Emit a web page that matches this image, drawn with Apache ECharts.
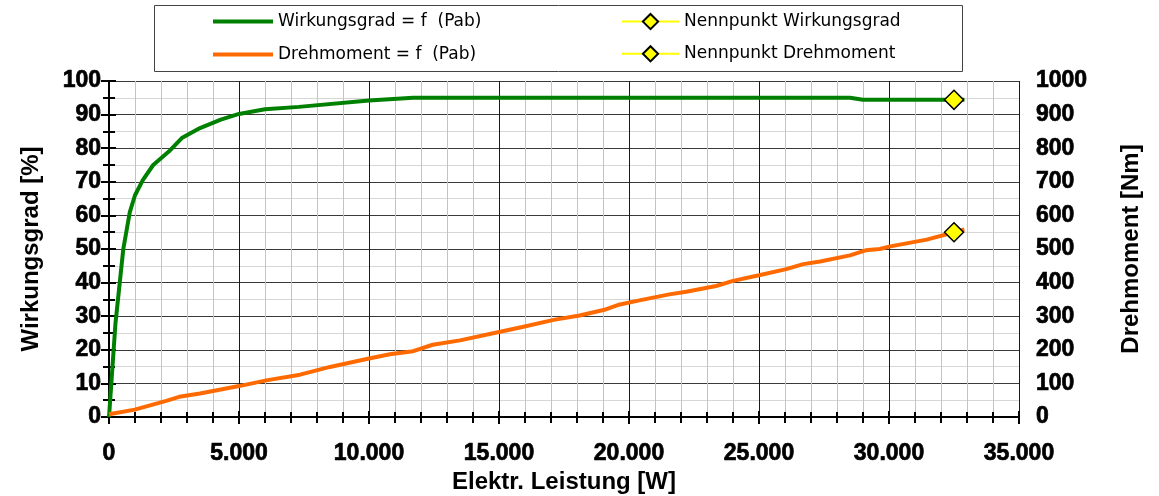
<!DOCTYPE html>
<html>
<head>
<meta charset="utf-8">
<script src="https://cdn.jsdelivr.net/npm/echarts@6/dist/echarts.min.js"></script>
<style>
html,body{margin:0;padding:0;background:#fff;}
#chart{width:1159px;height:496px;}
</style>
</head>
<body>
<div id="chart"></div>
<script>
// Wirkungsgrad = f (Pab): electrical power [W] and efficiency [%]
const effPower = [0, 250, 550, 800, 1000, 1300, 1700, 2300, 2800, 3500, 4300, 5000, 6000, 7300, 10000, 11700, 12580, 15810, 18730, 20460, 22850, 27200, 28500, 29000, 32900];
const effValues = [0, 28, 50, 61, 66, 70.5, 75, 79, 83, 86, 88.5, 90.2, 91.6, 92.3, 94.2, 95, 95, 95, 95, 95, 95, 95, 95, 94.4, 94.4];

// Drehmoment = f (Pab): electrical power [W] and torque [Nm]
const torquePower = [0, 990, 2200, 2700, 3500, 5000, 6050, 7350, 8500, 10000, 10800, 11700, 12450, 13500, 15000, 15900, 17100, 18100, 19100, 19650, 20400, 21550, 22200, 23350, 24000, 25000, 26050, 26700, 27350, 28500, 29100, 29650, 30000, 31450, 32900];
const torqueValues = [8, 22, 48, 60, 70, 92, 109, 126, 149, 174, 187, 196, 215, 228, 253, 268, 289, 302, 320, 335, 347, 365, 373, 390, 405, 422, 440, 455, 463, 481, 496, 500, 507, 528, 558];

// Nennpunkte (rated points)
const ratedPower = [32500];
const ratedEfficiency = [94.4];
const ratedTorque = [550];

// Series names / axis titles
const seriesNames = ['Wirkungsgrad = f  (Pab)', 'Drehmoment = f  (Pab)', 'Nennpunkt Wirkungsgrad', 'Nennpunkt Drehmoment'];
const xTitle = 'Elektr. Leistung [W]';
const yLeftTitle = 'Wirkungsgrad [%]';
const yRightTitle = 'Drehmoment [Nm]';

const zip = (xs, ys) => xs.map((x, i) => [x, ys[i]]);
const fmtThousands = v => String(v).replace(/\B(?=(\d{3})+(?!\d))/g, '.');
const fmtPlain = v => String(v);

const labelFont = {
  fontFamily: 'Liberation Sans, Arial, sans-serif',
  fontWeight: 'bold',
  fontSize: 23,
  color: '#000',
  textBorderColor: '#000',
  textBorderWidth: 0.7
};
const nameFont = {
  fontFamily: 'Liberation Sans, Arial, sans-serif',
  fontWeight: 'bold',
  fontSize: 24,
  color: '#000'
};

const chart = echarts.init(document.getElementById('chart'), null, {renderer: 'canvas'});

const yellowMarker = {
  color: '#ffff00',
  borderColor: '#000',
  borderWidth: 1.5
};
const legendText = {fontFamily: 'DejaVu Sans, sans-serif', fontSize: 17, color: '#000'};

const option = {
  animation: false,
  backgroundColor: '#fff',
  grid: {left: 109, right: 140, top: 81, bottom: 79, containLabel: false, outerBoundsMode: 'none'},
  graphic: [{
    type: 'rect',
    shape: {x: 154.5, y: 5.5, width: 808, height: 66},
    style: {fill: '#fff', stroke: '#444', lineWidth: 1},
    z: -1
  }],
  legend: [{
    data: [
      {name: seriesNames[0], icon: 'rect'},
      {name: seriesNames[1], icon: 'rect'}
    ],
    orient: 'vertical',
    left: 213,
    top: 13,
    padding: 0,
    itemWidth: 60,
    itemHeight: 4,
    itemGap: 16,
    textStyle: legendText
  }, {
    data: [seriesNames[2], seriesNames[3]],
    orient: 'vertical',
    left: 621,
    top: 13,
    padding: 0,
    itemWidth: 57,
    itemHeight: 19,
    itemGap: 15,
    textStyle: legendText
  }],
  xAxis: [{
    type: 'value',
    position: 'bottom',
    min: 0, max: 35000, interval: 5000,
    name: xTitle,
    nameLocation: 'middle',
    nameGap: 51,
    nameTextStyle: nameFont,
    axisLine: {show: true, lineStyle: {color: '#000', width: 2}},
    axisTick: {show: true, inside: false, length: 7, lineStyle: {color: '#000', width: 2}},
    minorTick: {show: true, splitNumber: 5, length: 6, lineStyle: {color: '#000', width: 2}},
    axisLabel: Object.assign({margin: 25, formatter: fmtThousands}, labelFont),
    splitLine: {show: true, lineStyle: {color: '#1a1a1a', width: 1}},
    minorSplitLine: {show: true, lineStyle: {color: '#c4c4c4', width: 1}}
  }, {
    type: 'value',
    position: 'bottom',
    min: 0, max: 35000, interval: 5000,
    axisLine: {show: false},
    axisTick: {show: true, inside: true, length: 6, lineStyle: {color: '#000', width: 2}},
    minorTick: {show: true, splitNumber: 5, length: 5, lineStyle: {color: '#000', width: 2}},
    axisLabel: {show: false},
    splitLine: {show: false}
  }],
  yAxis: [{
    type: 'value',
    position: 'left',
    min: 0, max: 100, interval: 10,
    name: yLeftTitle,
    nameLocation: 'middle',
    nameGap: 66,
    nameRotate: 90,
    nameTextStyle: nameFont,
    axisLine: {show: true, lineStyle: {color: '#000', width: 2}},
    axisTick: {show: true, inside: false, length: 8, lineStyle: {color: '#000', width: 2}},
    minorTick: {show: true, splitNumber: 2, length: 6, lineStyle: {color: '#000', width: 2}},
    axisLabel: Object.assign({margin: 8, padding: [0, 0, 8, 0], formatter: fmtPlain}, labelFont),
    splitLine: {show: true, lineStyle: {color: '#3a3a3a', width: 1}},
    minorSplitLine: {show: true, lineStyle: {color: '#d6d6d6', width: 1}}
  }, {
    type: 'value',
    position: 'right',
    min: 0, max: 1000, interval: 100,
    name: yRightTitle,
    nameLocation: 'middle',
    nameGap: 100,
    nameRotate: 90,
    nameTextStyle: nameFont,
    axisLine: {show: true, lineStyle: {color: '#000', width: 2}},
    axisTick: {show: true, inside: true, length: 6, lineStyle: {color: '#000', width: 2}},
    axisLabel: Object.assign({margin: 17, padding: [0, 0, 8, 0], formatter: fmtPlain}, labelFont),
    splitLine: {show: false}
  }, {
    type: 'value',
    position: 'left',
    min: 0, max: 100, interval: 10,
    axisLine: {show: false},
    axisTick: {show: true, inside: true, length: 7, lineStyle: {color: '#000', width: 2}},
    minorTick: {show: true, splitNumber: 2, length: 6, lineStyle: {color: '#000', width: 2}},
    axisLabel: {show: false},
    splitLine: {show: false}
  }],
  series: [{
    name: seriesNames[0],
    type: 'line',
    xAxisIndex: 0, yAxisIndex: 0,
    data: zip(effPower, effValues),
    showSymbol: false,
    symbol: 'none',
    lineStyle: {color: '#008000', width: 4},
    itemStyle: {color: '#008000'},
    z: 3
  }, {
    name: seriesNames[1],
    type: 'line',
    xAxisIndex: 0, yAxisIndex: 1,
    data: zip(torquePower, torqueValues),
    showSymbol: false,
    symbol: 'none',
    lineStyle: {color: '#ff6a00', width: 4},
    itemStyle: {color: '#ff6a00'},
    z: 3
  }, {
    name: seriesNames[2],
    type: 'line',
    xAxisIndex: 0, yAxisIndex: 0,
    data: zip(ratedPower, ratedEfficiency),
    symbol: 'diamond',
    symbolSize: 19,
    showSymbol: true,
    lineStyle: {color: '#ffff00', width: 2},
    itemStyle: yellowMarker,
    z: 5
  }, {
    name: seriesNames[3],
    type: 'line',
    xAxisIndex: 0, yAxisIndex: 1,
    data: zip(ratedPower, ratedTorque),
    symbol: 'diamond',
    symbolSize: 19,
    showSymbol: true,
    lineStyle: {color: '#ffff00', width: 2},
    itemStyle: yellowMarker,
    z: 5
  }]
};

chart.setOption(option);
</script>
</body>
</html>
